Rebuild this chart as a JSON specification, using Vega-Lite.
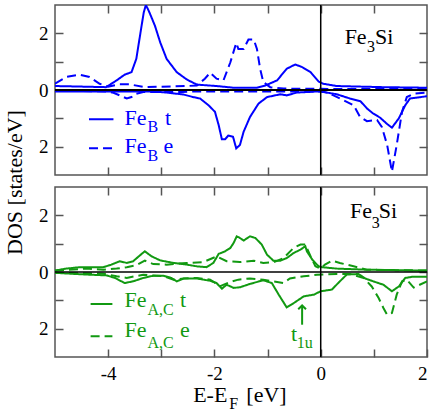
{
  "$schema": "https://vega.github.io/schema/vega-lite/v6.json",
  "padding": {"left": 2, "top": 3, "right": 6, "bottom": 0},
  "bounds": "flush",
  "spacing": 12,
  "config": {
    "view": {"stroke": "#555555", "strokeWidth": 1.5},
    "font": "Liberation Serif, Times New Roman, DejaVu Serif, serif",
    "axis": {"domain": false, "grid": false, "tickColor": "#555555", "tickWidth": 1.5, "tickSize": -8,
      "labelFont": "Liberation Serif, Times New Roman, DejaVu Serif, serif", "labelFontSize": 19, "labelColor": "#000000", "labelPadding": 15,
      "titleFont": "Liberation Serif, Times New Roman, DejaVu Serif, serif", "titleFontSize": 22, "titleFontWeight": "normal", "titleColor": "#000000"},
    "text": {"font": "Liberation Serif, Times New Roman, DejaVu Serif, serif"}
  },
  "datasets": {
    "curves": [
      {"p":"B","o":"t","s":"up","E":-5,"D":0.14},{"p":"B","o":"t","s":"up","E":-4.5,"D":0.12},{"p":"B","o":"t","s":"up","E":-4.04,"D":0.1},{"p":"B","o":"t","s":"up","E":-3.84,"D":0.34},{"p":"B","o":"t","s":"up","E":-3.69,"D":0.54},{"p":"B","o":"t","s":"up","E":-3.56,"D":0.63},{"p":"B","o":"t","s":"up","E":-3.47,"D":1.1},{"p":"B","o":"t","s":"up","E":-3.39,"D":2.04},{"p":"B","o":"t","s":"up","E":-3.33,"D":2.74},{"p":"B","o":"t","s":"up","E":-3.29,"D":3.0},{"p":"B","o":"t","s":"up","E":-3.25,"D":2.85},{"p":"B","o":"t","s":"up","E":-3.21,"D":2.68},{"p":"B","o":"t","s":"up","E":-3.12,"D":2.27},{"p":"B","o":"t","s":"up","E":-3.02,"D":1.68},{"p":"B","o":"t","s":"up","E":-2.9,"D":1.1},{"p":"B","o":"t","s":"up","E":-2.71,"D":0.63},{"p":"B","o":"t","s":"up","E":-2.52,"D":0.37},{"p":"B","o":"t","s":"up","E":-2.33,"D":0.19},{"p":"B","o":"t","s":"up","E":-1.96,"D":0.14},{"p":"B","o":"t","s":"up","E":-1.64,"D":0.08},{"p":"B","o":"t","s":"up","E":-1.2,"D":0.08},{"p":"B","o":"t","s":"up","E":-1.04,"D":0.16},{"p":"B","o":"t","s":"up","E":-0.82,"D":0.34},{"p":"B","o":"t","s":"up","E":-0.64,"D":0.75},{"p":"B","o":"t","s":"up","E":-0.48,"D":0.9},{"p":"B","o":"t","s":"up","E":-0.35,"D":0.81},{"p":"B","o":"t","s":"up","E":-0.19,"D":0.63},{"p":"B","o":"t","s":"up","E":-0.04,"D":0.3},{"p":"B","o":"t","s":"up","E":0.05,"D":0.22},{"p":"B","o":"t","s":"up","E":0.3,"D":0.14},{"p":"B","o":"t","s":"up","E":1.18,"D":0.1},{"p":"B","o":"t","s":"up","E":2,"D":0.08},
      {"p":"B","o":"t","s":"dn","E":-5,"D":-0.05},{"p":"B","o":"t","s":"dn","E":-3.15,"D":-0.05},{"p":"B","o":"t","s":"dn","E":-2.9,"D":-0.09},{"p":"B","o":"t","s":"dn","E":-2.58,"D":-0.16},{"p":"B","o":"t","s":"dn","E":-2.4,"D":-0.25},{"p":"B","o":"t","s":"dn","E":-2.27,"D":-0.3},{"p":"B","o":"t","s":"dn","E":-2.11,"D":-0.54},{"p":"B","o":"t","s":"dn","E":-1.99,"D":-0.77},{"p":"B","o":"t","s":"dn","E":-1.92,"D":-1.24},{"p":"B","o":"t","s":"dn","E":-1.86,"D":-1.74},{"p":"B","o":"t","s":"dn","E":-1.8,"D":-1.74},{"p":"B","o":"t","s":"dn","E":-1.74,"D":-1.61},{"p":"B","o":"t","s":"dn","E":-1.65,"D":-1.65},{"p":"B","o":"t","s":"dn","E":-1.59,"D":-2.06},{"p":"B","o":"t","s":"dn","E":-1.52,"D":-1.94},{"p":"B","o":"t","s":"dn","E":-1.45,"D":-1.47},{"p":"B","o":"t","s":"dn","E":-1.33,"D":-0.95},{"p":"B","o":"t","s":"dn","E":-1.17,"D":-0.48},{"p":"B","o":"t","s":"dn","E":-1.01,"D":-0.25},{"p":"B","o":"t","s":"dn","E":-0.76,"D":-0.15},{"p":"B","o":"t","s":"dn","E":-0.64,"D":-0.19},{"p":"B","o":"t","s":"dn","E":-0.45,"D":-0.09},{"p":"B","o":"t","s":"dn","E":-0.04,"D":-0.05},{"p":"B","o":"t","s":"dn","E":0.05,"D":-0.07},{"p":"B","o":"t","s":"dn","E":0.3,"D":-0.15},{"p":"B","o":"t","s":"dn","E":0.55,"D":-0.3},{"p":"B","o":"t","s":"dn","E":0.75,"D":-0.4},{"p":"B","o":"t","s":"dn","E":0.87,"D":-0.65},{"p":"B","o":"t","s":"dn","E":0.98,"D":-0.82},{"p":"B","o":"t","s":"dn","E":1.12,"D":-0.98},{"p":"B","o":"t","s":"dn","E":1.25,"D":-1.2},{"p":"B","o":"t","s":"dn","E":1.34,"D":-1.33},{"p":"B","o":"t","s":"dn","E":1.47,"D":-1.0},{"p":"B","o":"t","s":"dn","E":1.59,"D":-0.54},{"p":"B","o":"t","s":"dn","E":1.68,"D":-0.3},{"p":"B","o":"t","s":"dn","E":2,"D":-0.22},
      {"p":"B","o":"e","s":"up","E":-5,"D":0.22},{"p":"B","o":"e","s":"up","E":-4.79,"D":0.46},{"p":"B","o":"e","s":"up","E":-4.53,"D":0.54},{"p":"B","o":"e","s":"up","E":-4.35,"D":0.46},{"p":"B","o":"e","s":"up","E":-4.16,"D":0.22},{"p":"B","o":"e","s":"up","E":-4.0,"D":0.12},{"p":"B","o":"e","s":"up","E":-3.8,"D":0.2},{"p":"B","o":"e","s":"up","E":-3.6,"D":0.2},{"p":"B","o":"e","s":"up","E":-3.3,"D":0.1},{"p":"B","o":"e","s":"up","E":-2.52,"D":0.14},{"p":"B","o":"e","s":"up","E":-2.33,"D":0.16},{"p":"B","o":"e","s":"up","E":-2.18,"D":0.4},{"p":"B","o":"e","s":"up","E":-2.08,"D":0.61},{"p":"B","o":"e","s":"up","E":-1.96,"D":0.4},{"p":"B","o":"e","s":"up","E":-1.83,"D":0.34},{"p":"B","o":"e","s":"up","E":-1.7,"D":0.98},{"p":"B","o":"e","s":"up","E":-1.59,"D":1.66},{"p":"B","o":"e","s":"up","E":-1.55,"D":1.45},{"p":"B","o":"e","s":"up","E":-1.45,"D":1.45},{"p":"B","o":"e","s":"up","E":-1.36,"D":1.78},{"p":"B","o":"e","s":"up","E":-1.26,"D":1.78},{"p":"B","o":"e","s":"up","E":-1.2,"D":1.45},{"p":"B","o":"e","s":"up","E":-1.14,"D":0.75},{"p":"B","o":"e","s":"up","E":-1.08,"D":0.28},{"p":"B","o":"e","s":"up","E":-0.95,"D":0.1},{"p":"B","o":"e","s":"up","E":-0.7,"D":0.05},{"p":"B","o":"e","s":"up","E":0,"D":0.04},{"p":"B","o":"e","s":"up","E":2,"D":0.03},
      {"p":"B","o":"e","s":"dn","E":-5,"D":-0.02},{"p":"B","o":"e","s":"dn","E":-4.03,"D":-0.05},{"p":"B","o":"e","s":"dn","E":-3.9,"D":-0.1},{"p":"B","o":"e","s":"dn","E":-3.78,"D":-0.19},{"p":"B","o":"e","s":"dn","E":-3.65,"D":-0.3},{"p":"B","o":"e","s":"dn","E":-3.56,"D":-0.25},{"p":"B","o":"e","s":"dn","E":-3.47,"D":-0.13},{"p":"B","o":"e","s":"dn","E":-3.34,"D":-0.07},{"p":"B","o":"e","s":"dn","E":-2.6,"D":-0.07},{"p":"B","o":"e","s":"dn","E":-2.4,"D":-0.05},{"p":"B","o":"e","s":"dn","E":0.05,"D":-0.05},{"p":"B","o":"e","s":"dn","E":0.24,"D":-0.19},{"p":"B","o":"e","s":"dn","E":0.43,"D":-0.36},{"p":"B","o":"e","s":"dn","E":0.62,"D":-0.54},{"p":"B","o":"e","s":"dn","E":0.74,"D":-0.95},{"p":"B","o":"e","s":"dn","E":0.87,"D":-1.1},{"p":"B","o":"e","s":"dn","E":1.06,"D":-1.06},{"p":"B","o":"e","s":"dn","E":1.15,"D":-1.3},{"p":"B","o":"e","s":"dn","E":1.25,"D":-1.94},{"p":"B","o":"e","s":"dn","E":1.34,"D":-2.88},{"p":"B","o":"e","s":"dn","E":1.43,"D":-1.94},{"p":"B","o":"e","s":"dn","E":1.53,"D":-0.77},{"p":"B","o":"e","s":"dn","E":1.62,"D":-0.25},{"p":"B","o":"e","s":"dn","E":1.75,"D":-0.13},{"p":"B","o":"e","s":"dn","E":2,"D":-0.09},
      {"p":"AC","o":"t","s":"up","E":-5,"D":0.05},{"p":"AC","o":"t","s":"up","E":-4.79,"D":0.12},{"p":"AC","o":"t","s":"up","E":-4.53,"D":0.17},{"p":"AC","o":"t","s":"up","E":-4.09,"D":0.17},{"p":"AC","o":"t","s":"up","E":-3.94,"D":0.26},{"p":"AC","o":"t","s":"up","E":-3.78,"D":0.38},{"p":"AC","o":"t","s":"up","E":-3.65,"D":0.32},{"p":"AC","o":"t","s":"up","E":-3.53,"D":0.38},{"p":"AC","o":"t","s":"up","E":-3.4,"D":0.59},{"p":"AC","o":"t","s":"up","E":-3.31,"D":0.73},{"p":"AC","o":"t","s":"up","E":-3.18,"D":0.55},{"p":"AC","o":"t","s":"up","E":-3.02,"D":0.41},{"p":"AC","o":"t","s":"up","E":-2.77,"D":0.32},{"p":"AC","o":"t","s":"up","E":-2.52,"D":0.26},{"p":"AC","o":"t","s":"up","E":-2.33,"D":0.2},{"p":"AC","o":"t","s":"up","E":-2.15,"D":0.17},{"p":"AC","o":"t","s":"up","E":-2.02,"D":0.32},{"p":"AC","o":"t","s":"up","E":-1.92,"D":0.64},{"p":"AC","o":"t","s":"up","E":-1.8,"D":0.73},{"p":"AC","o":"t","s":"up","E":-1.7,"D":0.85},{"p":"AC","o":"t","s":"up","E":-1.64,"D":1.02},{"p":"AC","o":"t","s":"up","E":-1.58,"D":1.26},{"p":"AC","o":"t","s":"up","E":-1.52,"D":1.2},{"p":"AC","o":"t","s":"up","E":-1.45,"D":1.11},{"p":"AC","o":"t","s":"up","E":-1.33,"D":1.26},{"p":"AC","o":"t","s":"up","E":-1.23,"D":1.2},{"p":"AC","o":"t","s":"up","E":-1.11,"D":0.97},{"p":"AC","o":"t","s":"up","E":-1.01,"D":0.61},{"p":"AC","o":"t","s":"up","E":-0.89,"D":0.4},{"p":"AC","o":"t","s":"up","E":-0.76,"D":0.4},{"p":"AC","o":"t","s":"up","E":-0.64,"D":0.49},{"p":"AC","o":"t","s":"up","E":-0.51,"D":0.67},{"p":"AC","o":"t","s":"up","E":-0.38,"D":0.79},{"p":"AC","o":"t","s":"up","E":-0.29,"D":0.91},{"p":"AC","o":"t","s":"up","E":-0.26,"D":0.73},{"p":"AC","o":"t","s":"up","E":-0.16,"D":0.44},{"p":"AC","o":"t","s":"up","E":-0.04,"D":0.2},{"p":"AC","o":"t","s":"up","E":0.02,"D":0.17},{"p":"AC","o":"t","s":"up","E":0.3,"D":0.12},{"p":"AC","o":"t","s":"up","E":0.87,"D":0.08},{"p":"AC","o":"t","s":"up","E":2,"D":0.05},
      {"p":"AC","o":"e","s":"up","E":-5,"D":0.05},{"p":"AC","o":"e","s":"up","E":-4.41,"D":0.12},{"p":"AC","o":"e","s":"up","E":-4.09,"D":0.08},{"p":"AC","o":"e","s":"up","E":-3.84,"D":0.12},{"p":"AC","o":"e","s":"up","E":-3.65,"D":0.17},{"p":"AC","o":"e","s":"up","E":-3.47,"D":0.24},{"p":"AC","o":"e","s":"up","E":-3.31,"D":0.4},{"p":"AC","o":"e","s":"up","E":-3.15,"D":0.28},{"p":"AC","o":"e","s":"up","E":-2.9,"D":0.26},{"p":"AC","o":"e","s":"up","E":-2.52,"D":0.32},{"p":"AC","o":"e","s":"up","E":-2.21,"D":0.35},{"p":"AC","o":"e","s":"up","E":-1.96,"D":0.55},{"p":"AC","o":"e","s":"up","E":-1.77,"D":0.38},{"p":"AC","o":"e","s":"up","E":-1.52,"D":0.35},{"p":"AC","o":"e","s":"up","E":-1.26,"D":0.4},{"p":"AC","o":"e","s":"up","E":-1.08,"D":0.32},{"p":"AC","o":"e","s":"up","E":-0.89,"D":0.34},{"p":"AC","o":"e","s":"up","E":-0.7,"D":0.49},{"p":"AC","o":"e","s":"up","E":-0.51,"D":0.85},{"p":"AC","o":"e","s":"up","E":-0.38,"D":0.97},{"p":"AC","o":"e","s":"up","E":-0.29,"D":0.97},{"p":"AC","o":"e","s":"up","E":-0.19,"D":0.55},{"p":"AC","o":"e","s":"up","E":-0.1,"D":0.2},{"p":"AC","o":"e","s":"up","E":0,"D":0.12},{"p":"AC","o":"e","s":"up","E":0.08,"D":0.26},{"p":"AC","o":"e","s":"up","E":0.21,"D":0.4},{"p":"AC","o":"e","s":"up","E":0.36,"D":0.32},{"p":"AC","o":"e","s":"up","E":0.62,"D":0.2},{"p":"AC","o":"e","s":"up","E":0.87,"D":0.08},{"p":"AC","o":"e","s":"up","E":2,"D":0.05},
      {"p":"AC","o":"t","s":"dn","E":-5,"D":-0.03},{"p":"AC","o":"t","s":"dn","E":-4.41,"D":-0.09},{"p":"AC","o":"t","s":"dn","E":-4.03,"D":-0.12},{"p":"AC","o":"t","s":"dn","E":-3.87,"D":-0.21},{"p":"AC","o":"t","s":"dn","E":-3.69,"D":-0.39},{"p":"AC","o":"t","s":"dn","E":-3.53,"D":-0.33},{"p":"AC","o":"t","s":"dn","E":-3.34,"D":-0.21},{"p":"AC","o":"t","s":"dn","E":-3.15,"D":-0.13},{"p":"AC","o":"t","s":"dn","E":-2.96,"D":-0.13},{"p":"AC","o":"t","s":"dn","E":-2.81,"D":-0.21},{"p":"AC","o":"t","s":"dn","E":-2.71,"D":-0.33},{"p":"AC","o":"t","s":"dn","E":-2.58,"D":-0.23},{"p":"AC","o":"t","s":"dn","E":-2.33,"D":-0.23},{"p":"AC","o":"t","s":"dn","E":-2.08,"D":-0.31},{"p":"AC","o":"t","s":"dn","E":-1.96,"D":-0.39},{"p":"AC","o":"t","s":"dn","E":-1.86,"D":-0.59},{"p":"AC","o":"t","s":"dn","E":-1.77,"D":-0.45},{"p":"AC","o":"t","s":"dn","E":-1.64,"D":-0.56},{"p":"AC","o":"t","s":"dn","E":-1.52,"D":-0.54},{"p":"AC","o":"t","s":"dn","E":-1.33,"D":-0.42},{"p":"AC","o":"t","s":"dn","E":-1.08,"D":-0.29},{"p":"AC","o":"t","s":"dn","E":-0.92,"D":-0.39},{"p":"AC","o":"t","s":"dn","E":-0.79,"D":-0.8},{"p":"AC","o":"t","s":"dn","E":-0.64,"D":-1.25},{"p":"AC","o":"t","s":"dn","E":-0.51,"D":-1.1},{"p":"AC","o":"t","s":"dn","E":-0.32,"D":-0.86},{"p":"AC","o":"t","s":"dn","E":-0.13,"D":-0.8},{"p":"AC","o":"t","s":"dn","E":0,"D":-0.68},{"p":"AC","o":"t","s":"dn","E":0.21,"D":-0.62},{"p":"AC","o":"t","s":"dn","E":0.36,"D":-0.33},{"p":"AC","o":"t","s":"dn","E":0.49,"D":-0.09},{"p":"AC","o":"t","s":"dn","E":0.71,"D":-0.07},{"p":"AC","o":"t","s":"dn","E":0.84,"D":-0.23},{"p":"AC","o":"t","s":"dn","E":0.99,"D":-0.33},{"p":"AC","o":"t","s":"dn","E":1.18,"D":-0.45},{"p":"AC","o":"t","s":"dn","E":1.34,"D":-0.68},{"p":"AC","o":"t","s":"dn","E":1.47,"D":-0.51},{"p":"AC","o":"t","s":"dn","E":1.59,"D":-0.21},{"p":"AC","o":"t","s":"dn","E":1.72,"D":-0.17},{"p":"AC","o":"t","s":"dn","E":2,"D":-0.17},
      {"p":"AC","o":"e","s":"dn","E":-5,"D":-0.03},{"p":"AC","o":"e","s":"dn","E":-4.09,"D":-0.06},{"p":"AC","o":"e","s":"dn","E":-3.84,"D":-0.15},{"p":"AC","o":"e","s":"dn","E":-3.65,"D":-0.21},{"p":"AC","o":"e","s":"dn","E":-3.49,"D":-0.15},{"p":"AC","o":"e","s":"dn","E":-3.34,"D":-0.1},{"p":"AC","o":"e","s":"dn","E":-2.96,"D":-0.15},{"p":"AC","o":"e","s":"dn","E":-2.77,"D":-0.27},{"p":"AC","o":"e","s":"dn","E":-2.58,"D":-0.23},{"p":"AC","o":"e","s":"dn","E":-2.33,"D":-0.21},{"p":"AC","o":"e","s":"dn","E":-2.08,"D":-0.27},{"p":"AC","o":"e","s":"dn","E":-1.89,"D":-0.5},{"p":"AC","o":"e","s":"dn","E":-1.7,"D":-0.35},{"p":"AC","o":"e","s":"dn","E":-1.55,"D":-0.27},{"p":"AC","o":"e","s":"dn","E":-1.33,"D":-0.23},{"p":"AC","o":"e","s":"dn","E":-1.08,"D":-0.27},{"p":"AC","o":"e","s":"dn","E":-0.82,"D":-0.35},{"p":"AC","o":"e","s":"dn","E":-0.7,"D":-0.39},{"p":"AC","o":"e","s":"dn","E":-0.58,"D":-0.23},{"p":"AC","o":"e","s":"dn","E":-0.32,"D":-0.15},{"p":"AC","o":"e","s":"dn","E":-0.07,"D":-0.1},{"p":"AC","o":"e","s":"dn","E":0.3,"D":-0.07},{"p":"AC","o":"e","s":"dn","E":0.55,"D":-0.07},{"p":"AC","o":"e","s":"dn","E":0.81,"D":-0.21},{"p":"AC","o":"e","s":"dn","E":0.96,"D":-0.51},{"p":"AC","o":"e","s":"dn","E":1.09,"D":-0.92},{"p":"AC","o":"e","s":"dn","E":1.18,"D":-1.27},{"p":"AC","o":"e","s":"dn","E":1.25,"D":-1.51},{"p":"AC","o":"e","s":"dn","E":1.34,"D":-1.45},{"p":"AC","o":"e","s":"dn","E":1.43,"D":-0.8},{"p":"AC","o":"e","s":"dn","E":1.53,"D":-0.33},{"p":"AC","o":"e","s":"dn","E":1.62,"D":-0.27},{"p":"AC","o":"e","s":"dn","E":1.75,"D":-0.55},{"p":"AC","o":"e","s":"dn","E":2,"D":-0.33}
    ],
    "legLines": [
      {"p":"B","o":"t","x":-4.36,"x2":-3.9,"y":-1.03},
      {"p":"B","o":"e","x":-4.36,"x2":-3.9,"y":-2.06},
      {"p":"AC","o":"t","x":-4.33,"x2":-3.92,"y":-1.13},
      {"p":"AC","o":"e","x":-4.33,"x2":-3.92,"y":-2.27}
    ],
    "texts": [
      {"p":"B","k":"main","g":"legB","x":-3.69,"y":-1.22,"t":"Fe"},
      {"p":"B","k":"sub","g":"legB","x":-3.26,"y":-1.47,"t":"B"},
      {"p":"B","k":"main","g":"legB","x":-2.93,"y":-1.22,"t":"t"},
      {"p":"B","k":"main","g":"legB","x":-3.69,"y":-2.24,"t":"Fe"},
      {"p":"B","k":"sub","g":"legB","x":-3.26,"y":-2.5,"t":"B"},
      {"p":"B","k":"main","g":"legB","x":-2.96,"y":-2.24,"t":"e"},
      {"p":"B","k":"main","g":"name","x":0.45,"y":1.62,"t":"Fe"},
      {"p":"B","k":"sub","g":"name","x":0.87,"y":1.33,"t":"3"},
      {"p":"B","k":"main","g":"name","x":1.02,"y":1.62,"t":"Si"},
      {"p":"AC","k":"main","g":"legAC","x":-3.69,"y":-1.25,"t":"Fe"},
      {"p":"AC","k":"sub","g":"legAC","x":-3.26,"y":-1.51,"t":"A,C"},
      {"p":"AC","k":"main","g":"legAC","x":-2.65,"y":-1.25,"t":"t"},
      {"p":"AC","k":"main","g":"legAC","x":-3.69,"y":-2.31,"t":"Fe"},
      {"p":"AC","k":"sub","g":"legAC","x":-3.26,"y":-2.69,"t":"A,C"},
      {"p":"AC","k":"main","g":"legAC","x":-2.65,"y":-2.31,"t":"e"},
      {"p":"AC","k":"main","g":"name","x":0.55,"y":1.91,"t":"Fe"},
      {"p":"AC","k":"sub","g":"name","x":0.96,"y":1.55,"t":"3"},
      {"p":"AC","k":"main","g":"name","x":1.09,"y":1.91,"t":"Si"},
      {"p":"AC","k":"main","g":"legAC","x":-0.56,"y":-2.42,"t":"t"},
      {"p":"AC","k":"sub","g":"legAC","x":-0.45,"y":-2.69,"t":"1u"},
      {"p":"AC","k":"main","g":"name","x":-2.4,"y":-4.58,"t":"E-E"},
      {"p":"AC","k":"sub","g":"name","x":-1.72,"y":-4.84,"t":"F"},
      {"p":"AC","k":"main","g":"name","x":-1.4,"y":-4.58,"t":"[eV]"}
    ],
    "arrow": [{"x":-0.35,"y":-1.86,"y2":-1.22,"tip":-1.18}]
  },
  "vconcat": [
    {
      "width": 372, "height": 170,
      "resolve": {"axis": {"x": "independent", "y": "independent"}},
      "layer": [
        {
          "data": {"name": "curves"},
          "transform": [{"filter": "datum.p == 'B'"}],
          "mark": {"type": "line", "color": "#0000ff", "strokeWidth": 2, "clip": true},
          "encoding": {
            "x": {"field": "E", "type": "quantitative", "scale": {"domain": [-5, 2], "nice": false},
              "axis": {"values": [-4, -3, -2, -1, 0, 1], "labels": false, "title": null}},
            "y": {"field": "D", "type": "quantitative", "scale": {"domain": [-3, 3], "nice": false},
              "axis": {"values": [-2, -1, 0, 1, 2], "labelExpr": "datum.value % 2 == 0 ? '' + abs(datum.value) : ''",
                "title": "DOS [states/eV]", "titleY": 177, "titlePadding": 12}},
            "detail": {"field": "s"},
            "strokeDash": {"field": "o", "type": "nominal", "scale": {"domain": ["t", "e"], "range": [[1, 0], [9, 5]]}, "legend": null}
          }
        },
        {
          "data": {"name": "curves"},
          "transform": [{"filter": "datum.p == 'B' && datum.E == -5 && datum.o == 't' && datum.s == 'up'"}],
          "mark": {"type": "point", "opacity": 0},
          "encoding": {
            "x": {"field": "E", "type": "quantitative", "axis": {"orient": "top", "values": [-4, -3, -2, -1, 0, 1], "labels": false, "title": null}},
            "y": {"field": "D", "type": "quantitative", "axis": {"orient": "right", "values": [-2, -1, 0, 1, 2], "labels": false, "title": null}}
          }
        },
        {
          "data": {"values": [{"v": 0}]},
          "mark": {"type": "rule", "color": "#000000", "strokeWidth": 2},
          "encoding": {"y": {"field": "v", "type": "quantitative", "axis": null}}
        },
        {
          "data": {"values": [{"v": 0}]},
          "mark": {"type": "rule", "color": "#000000", "strokeWidth": 1.5},
          "encoding": {"x": {"field": "v", "type": "quantitative", "axis": null}}
        },
        {
          "data": {"name": "legLines"},
          "transform": [{"filter": "datum.p == 'B'"}],
          "mark": {"type": "rule", "color": "#0000ff", "strokeWidth": 2},
          "encoding": {
            "x": {"field": "x", "type": "quantitative", "axis": null},
            "x2": {"field": "x2"},
            "y": {"field": "y", "type": "quantitative", "axis": null},
            "strokeDash": {"field": "o", "type": "nominal", "scale": {"domain": ["t", "e"], "range": [[1, 0], [9, 5]]}, "legend": null}
          }
        },
        {
          "data": {"name": "texts"},
          "transform": [{"filter": "datum.p == 'B' && datum.k == 'main'"}],
          "mark": {"type": "text", "align": "left", "baseline": "alphabetic", "font": "Liberation Serif, Times New Roman, DejaVu Serif, serif", "fontSize": 22},
          "encoding": {
            "x": {"field": "x", "type": "quantitative", "axis": null},
            "y": {"field": "y", "type": "quantitative", "axis": null},
            "text": {"field": "t"},
            "color": {"field": "g", "type": "nominal", "scale": {"domain": ["legB", "legAC", "name"], "range": ["#0000ff", "#119911", "#000000"]}, "legend": null}
          }
        },
        {
          "data": {"name": "texts"},
          "transform": [{"filter": "datum.p == 'B' && datum.k == 'sub'"}],
          "mark": {"type": "text", "align": "left", "baseline": "alphabetic", "font": "Liberation Serif, Times New Roman, DejaVu Serif, serif", "fontSize": 16},
          "encoding": {
            "x": {"field": "x", "type": "quantitative", "axis": null},
            "y": {"field": "y", "type": "quantitative", "axis": null},
            "text": {"field": "t"},
            "color": {"field": "g", "type": "nominal", "scale": {"domain": ["legB", "legAC", "name"], "range": ["#0000ff", "#119911", "#000000"]}, "legend": null}
          }
        }
      ]
    },
    {
      "width": 372, "height": 170,
      "resolve": {"axis": {"x": "independent", "y": "independent"}},
      "layer": [
        {
          "data": {"name": "curves"},
          "transform": [{"filter": "datum.p == 'AC'"}],
          "mark": {"type": "line", "color": "#119911", "strokeWidth": 2, "clip": true},
          "encoding": {
            "x": {"field": "E", "type": "quantitative", "scale": {"domain": [-5, 2], "nice": false},
              "axis": {"values": [-4, -3, -2, -1, 0, 1, 2], "labelExpr": "datum.value % 2 == 0 ? '' + datum.value : ''", "title": null}},
            "y": {"field": "D", "type": "quantitative", "scale": {"domain": [-3, 3], "nice": false},
              "axis": {"values": [-2, -1, 0, 1, 2], "labelExpr": "datum.value % 2 == 0 ? '' + abs(datum.value) : ''", "title": null}},
            "detail": {"field": "s"},
            "strokeDash": {"field": "o", "type": "nominal", "scale": {"domain": ["t", "e"], "range": [[1, 0], [9, 5]]}, "legend": null}
          }
        },
        {
          "data": {"name": "curves"},
          "transform": [{"filter": "datum.p == 'AC' && datum.E == -5 && datum.o == 't' && datum.s == 'up'"}],
          "mark": {"type": "point", "opacity": 0},
          "encoding": {
            "x": {"field": "E", "type": "quantitative", "axis": {"orient": "top", "values": [-4, -3, -2, -1, 0, 1], "labels": false, "title": null}},
            "y": {"field": "D", "type": "quantitative", "axis": {"orient": "right", "values": [-2, -1, 0, 1, 2], "labels": false, "title": null}}
          }
        },
        {
          "data": {"values": [{"v": 0}]},
          "mark": {"type": "rule", "color": "#000000", "strokeWidth": 1.3},
          "encoding": {"y": {"field": "v", "type": "quantitative", "axis": null}}
        },
        {
          "data": {"values": [{"v": 0}]},
          "mark": {"type": "rule", "color": "#000000", "strokeWidth": 1.5},
          "encoding": {"x": {"field": "v", "type": "quantitative", "axis": null}}
        },
        {
          "data": {"name": "legLines"},
          "transform": [{"filter": "datum.p == 'AC'"}],
          "mark": {"type": "rule", "color": "#119911", "strokeWidth": 2},
          "encoding": {
            "x": {"field": "x", "type": "quantitative", "axis": null},
            "x2": {"field": "x2"},
            "y": {"field": "y", "type": "quantitative", "axis": null},
            "strokeDash": {"field": "o", "type": "nominal", "scale": {"domain": ["t", "e"], "range": [[1, 0], [9, 5]]}, "legend": null}
          }
        },
        {
          "data": {"name": "arrow"},
          "mark": {"type": "rule", "color": "#119911", "strokeWidth": 2},
          "encoding": {
            "x": {"field": "x", "type": "quantitative", "axis": null},
            "y": {"field": "y", "type": "quantitative", "axis": null},
            "y2": {"field": "y2"}
          }
        },
        {
          "data": {"name": "arrow"},
          "mark": {"type": "point", "shape": "M -1 1 L 0 0 L 1 1", "filled": false, "color": "#119911", "strokeWidth": 2, "size": 60, "opacity": 1},
          "encoding": {
            "x": {"field": "x", "type": "quantitative", "axis": null},
            "y": {"field": "tip", "type": "quantitative", "axis": null}
          }
        },
        {
          "data": {"name": "texts"},
          "transform": [{"filter": "datum.p == 'AC' && datum.k == 'main'"}],
          "mark": {"type": "text", "align": "left", "baseline": "alphabetic", "font": "Liberation Serif, Times New Roman, DejaVu Serif, serif", "fontSize": 22},
          "encoding": {
            "x": {"field": "x", "type": "quantitative", "axis": null},
            "y": {"field": "y", "type": "quantitative", "axis": null},
            "text": {"field": "t"},
            "color": {"field": "g", "type": "nominal", "scale": {"domain": ["legB", "legAC", "name"], "range": ["#0000ff", "#119911", "#000000"]}, "legend": null}
          }
        },
        {
          "data": {"name": "texts"},
          "transform": [{"filter": "datum.p == 'AC' && datum.k == 'sub'"}],
          "mark": {"type": "text", "align": "left", "baseline": "alphabetic", "font": "Liberation Serif, Times New Roman, DejaVu Serif, serif", "fontSize": 16},
          "encoding": {
            "x": {"field": "x", "type": "quantitative", "axis": null},
            "y": {"field": "y", "type": "quantitative", "axis": null},
            "text": {"field": "t"},
            "color": {"field": "g", "type": "nominal", "scale": {"domain": ["legB", "legAC", "name"], "range": ["#0000ff", "#119911", "#000000"]}, "legend": null}
          }
        }
      ]
    }
  ]
}
